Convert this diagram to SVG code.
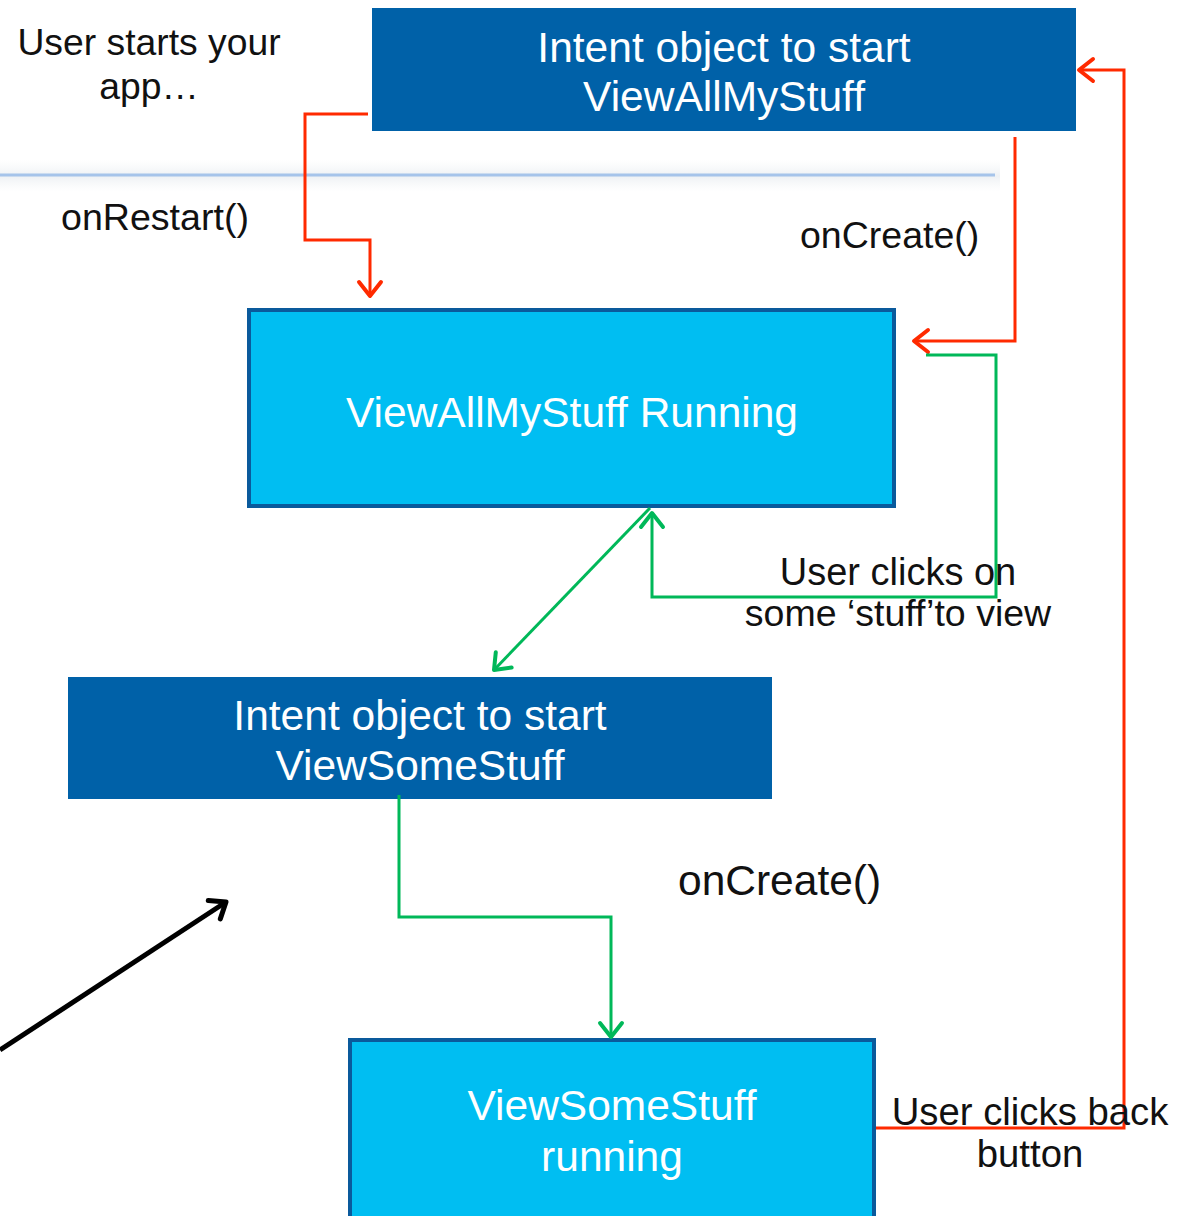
<svg xmlns="http://www.w3.org/2000/svg" width="1188" height="1216" viewBox="0 0 1188 1216">
<defs>
<style>
.txt{font-family:"Liberation Sans",Arial,sans-serif;fill:#111;}
.wt{font-family:"Liberation Sans",Arial,sans-serif;fill:#fff;text-anchor:middle;font-size:42.5px;}
.dark{fill:#0061a8;}
.cyan{fill:#00bef2;stroke:#0a5a9c;stroke-width:4;}
.red{fill:none;stroke:#ff2a00;stroke-width:3;}
.green{fill:none;stroke:#00b859;stroke-width:3;}
</style>
<marker id="ar" viewBox="-20 -15 25 30" refX="0" refY="0" markerWidth="25" markerHeight="30" markerUnits="userSpaceOnUse" orient="auto">
<path d="M -14 -11 L 0 0 L -14 11" fill="none" stroke="#ff2a00" stroke-width="4" stroke-linecap="round" stroke-linejoin="round"/>
</marker>
<marker id="ag" viewBox="-20 -15 25 30" refX="0" refY="0" markerWidth="25" markerHeight="30" markerUnits="userSpaceOnUse" orient="auto">
<path d="M -14 -11 L 0 0 L -14 11" fill="none" stroke="#00b859" stroke-width="4" stroke-linecap="round" stroke-linejoin="round"/>
</marker>
<marker id="ab" viewBox="-20 -15 25 30" refX="0" refY="0" markerWidth="25" markerHeight="30" markerUnits="userSpaceOnUse" orient="auto">
<path d="M -14 -11 L 0 0 L -14 11" fill="none" stroke="#000" stroke-width="5" stroke-linecap="round" stroke-linejoin="round"/>
</marker>
<linearGradient id="sh" x1="0" y1="0" x2="0" y2="1">
<stop offset="0" stop-color="#f4f6f8" stop-opacity="0"/>
<stop offset="0.5" stop-color="#eef1f4" stop-opacity="1"/>
<stop offset="1" stop-color="#f4f6f8" stop-opacity="0"/>
</linearGradient>
</defs>
<rect width="1188" height="1216" fill="#fff"/>
<rect x="0" y="160" width="1000" height="32" fill="url(#sh)"/>
<line x1="0" y1="175" x2="995" y2="175" stroke="#a6c4ea" stroke-width="3"/>

<g id="label-start">
<text class="txt" font-size="37.3" text-anchor="middle" x="149" y="55">User starts your</text>
<text class="txt" font-size="37.3" text-anchor="middle" x="149" y="99">app…</text>
</g>

<g id="node-intent-all">
<rect class="dark" x="372" y="8" width="704" height="123"/>
<text class="wt" x="724" y="62">Intent object to start</text>
<text class="wt" x="724" y="111">ViewAllMyStuff</text>
</g>

<g id="node-all-running">
<rect class="cyan" x="249" y="310" width="645" height="196"/>
<text class="wt" x="572" y="427">ViewAllMyStuff Running</text>
</g>

<g id="node-intent-some">
<rect class="dark" x="68" y="677" width="704" height="122"/>
<text class="wt" x="420" y="730">Intent object to start</text>
<text class="wt" x="420" y="780">ViewSomeStuff</text>
</g>

<g id="node-some-running">
<rect class="cyan" x="350" y="1040" width="524" height="190"/>
<text class="wt" x="612" y="1120">ViewSomeStuff</text>
<text class="wt" x="612" y="1171">running</text>
</g>

<g id="connectors">
<polyline class="red" points="368,114 305,114 305,240 370,240 370,296" marker-end="url(#ar)"/>
<polyline class="red" points="1015,137 1015,341 914,341" marker-end="url(#ar)"/>
<polyline class="red" points="876,1128 1124,1128 1124,70 1079,70" marker-end="url(#ar)"/>
<polyline class="green" points="926,355 996,355 996,597 652,597 652,513" marker-end="url(#ag)"/>
<line class="green" x1="650" y1="508" x2="494" y2="670" marker-end="url(#ag)"/>
<polyline class="green" points="399,795 399,917 611,917 611,1037" marker-end="url(#ag)"/>
<line x1="0" y1="1050" x2="226" y2="902" stroke="#000" stroke-width="5" marker-end="url(#ab)"/>
</g>

<g id="edge-labels">
<text class="txt" font-size="37.6" x="61" y="230">onRestart()</text>
<text class="txt" font-size="37.5" x="800" y="248">onCreate()</text>
<text class="txt" font-size="38" text-anchor="middle" x="898" y="585">User clicks on</text>
<text class="txt" font-size="37.5" text-anchor="middle" x="898" y="626">some ‘stuff’to view</text>
<text class="txt" font-size="42.5" x="678" y="895">onCreate()</text>
<text class="txt" font-size="38.3" text-anchor="middle" x="1030" y="1125">User clicks back</text>
<text class="txt" font-size="38.3" text-anchor="middle" x="1030" y="1167">button</text>
</g>
</svg>
